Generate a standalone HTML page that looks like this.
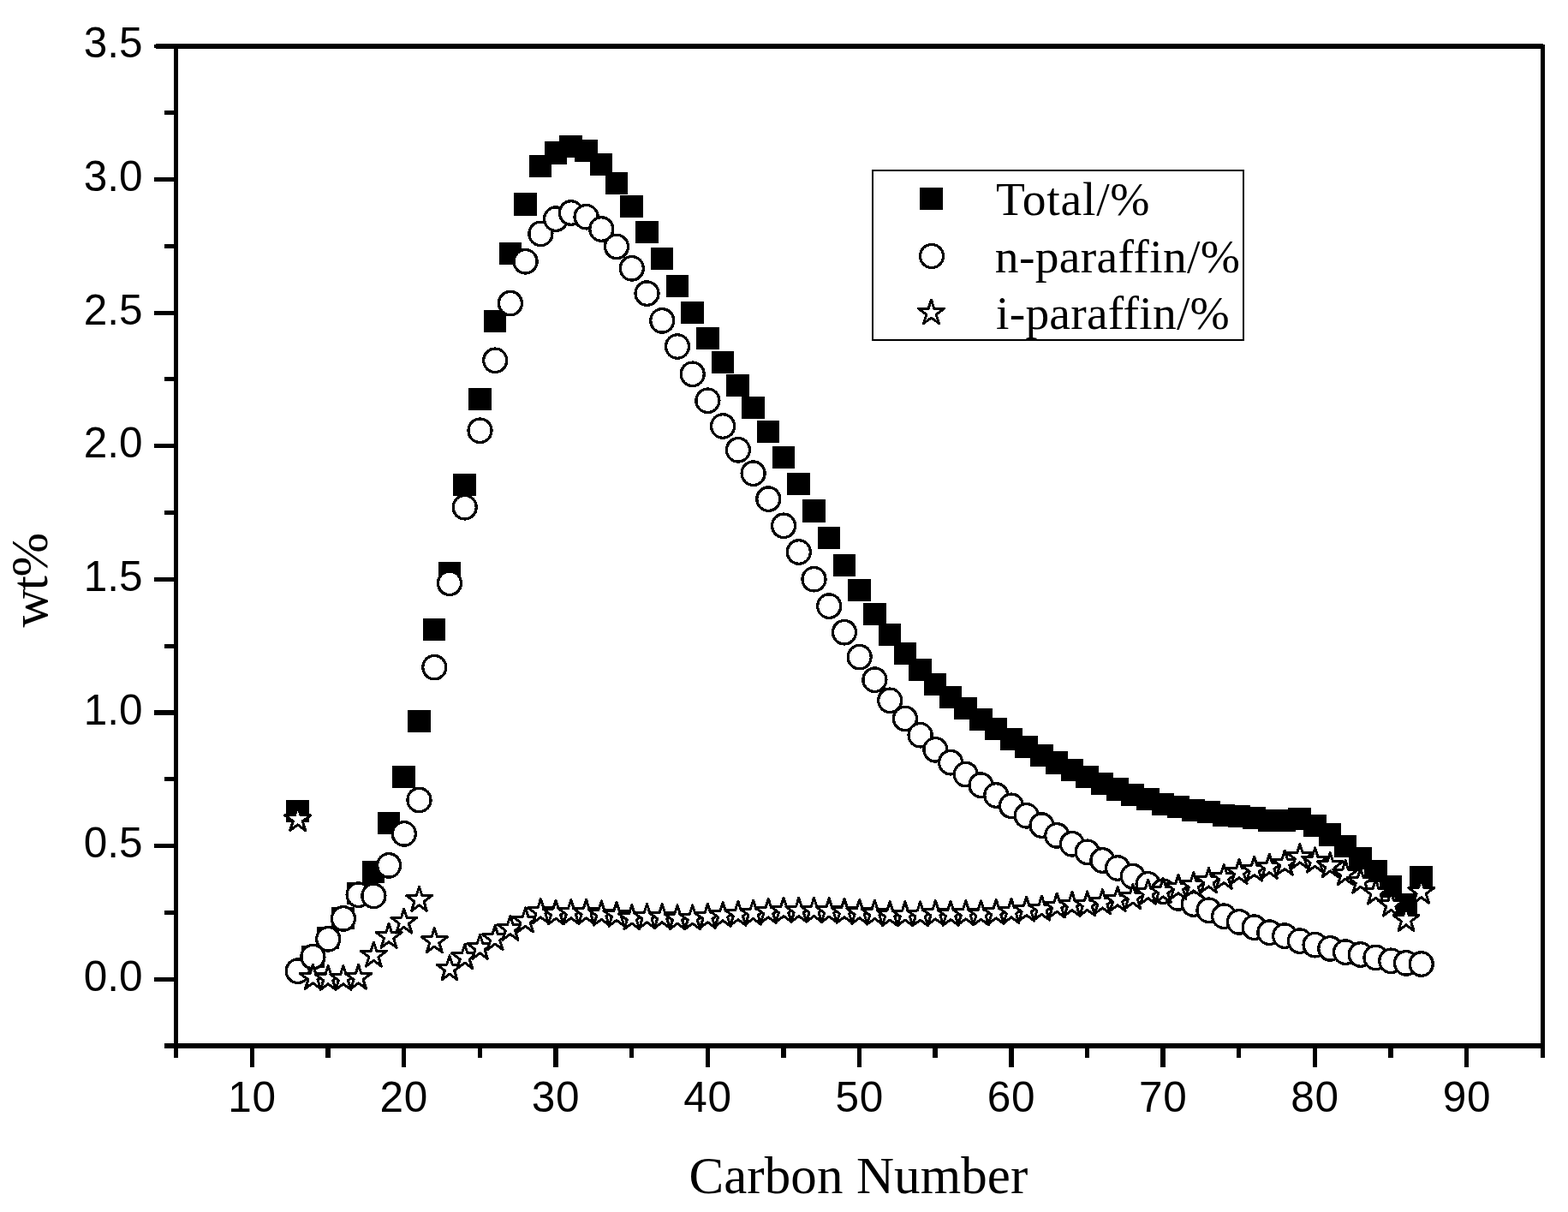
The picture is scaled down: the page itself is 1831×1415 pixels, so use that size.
<!DOCTYPE html>
<html lang="en"><head><meta charset="utf-8"><title>Carbon number distribution</title>
<style>
html,body{margin:0;padding:0;background:#fff;}
body{width:1831px;height:1415px;overflow:hidden;}
svg{display:block;}
.tk{font-family:"Liberation Sans",Arial,sans-serif;font-size:49.5px;fill:#000;}
.ti{font-family:"Liberation Serif","Times New Roman",serif;font-size:61px;fill:#000;}
.lg{font-family:"Liberation Serif","Times New Roman",serif;font-size:55.5px;fill:#000;}
.ax rect{fill:#000;}
.sq rect{fill:#000;}
.ci circle{fill:#fff;stroke:#000;stroke-width:3.1;}.ci ellipse{fill:#fff;stroke:#000;stroke-width:3.3;}
.st polygon{fill:#fff;stroke:#000;stroke-width:3;stroke-linejoin:round;}
</style></head><body>
<svg width="1831" height="1415" viewBox="0 0 1831 1415">
<rect x="0" y="0" width="1831" height="1415" fill="#fff"/>
<g class="ax" shape-rendering="crispEdges">
<rect x="203" y="51" width="5" height="1184"/>
<rect x="1799" y="52" width="5" height="1183"/>
<rect x="182" y="51" width="1620" height="6"/>
<rect x="180" y="52" width="3" height="4"/>
<rect x="192" y="1218" width="1612" height="6"/>
<rect x="180" y="1140.65" width="24" height="5.25"/>
<rect x="192" y="1062.82" width="12" height="5.25"/>
<rect x="180" y="984.99" width="24" height="5.25"/>
<rect x="192" y="907.16" width="12" height="5.25"/>
<rect x="180" y="829.33" width="24" height="5.25"/>
<rect x="192" y="751.50" width="12" height="5.25"/>
<rect x="180" y="673.67" width="24" height="5.25"/>
<rect x="192" y="595.84" width="12" height="5.25"/>
<rect x="180" y="518.01" width="24" height="5.25"/>
<rect x="192" y="440.18" width="12" height="5.25"/>
<rect x="180" y="363" width="24" height="5"/>
<rect x="192" y="284.52" width="12" height="5.25"/>
<rect x="180" y="206.69" width="24" height="5.25"/>
<rect x="192" y="128.86" width="12" height="5.25"/>
<rect x="291.61" y="1223" width="5.4" height="23"/>
<rect x="380.26" y="1223" width="5.4" height="12"/>
<rect x="468.91" y="1223" width="5.4" height="23"/>
<rect x="557.56" y="1223" width="5.4" height="12"/>
<rect x="646.21" y="1223" width="5.4" height="23"/>
<rect x="734.86" y="1223" width="5.4" height="12"/>
<rect x="823.51" y="1223" width="5.4" height="23"/>
<rect x="912.16" y="1223" width="5.4" height="12"/>
<rect x="1000.81" y="1223" width="5.4" height="23"/>
<rect x="1089.46" y="1223" width="5.4" height="12"/>
<rect x="1178.11" y="1223" width="5.4" height="23"/>
<rect x="1266.76" y="1223" width="5.4" height="12"/>
<rect x="1355.41" y="1223" width="5.4" height="23"/>
<rect x="1444.06" y="1223" width="5.4" height="12"/>
<rect x="1532.71" y="1223" width="5.4" height="23"/>
<rect x="1621.36" y="1223" width="5.4" height="12"/>
<rect x="1710.01" y="1223" width="5.4" height="23"/>
</g>
<g class="tk">
<text x="166.6" y="1156.9" text-anchor="end">0.0</text>
<text x="166.6" y="1001.2" text-anchor="end">0.5</text>
<text x="166.6" y="845.6" text-anchor="end">1.0</text>
<text x="166.6" y="689.9" text-anchor="end">1.5</text>
<text x="166.6" y="534.3" text-anchor="end">2.0</text>
<text x="166.6" y="378.6" text-anchor="end">2.5</text>
<text x="166.6" y="222.9" text-anchor="end">3.0</text>
<text x="166.6" y="67.3" text-anchor="end">3.5</text>
<text x="294.5" y="1298" text-anchor="middle" letter-spacing="0.7">10</text>
<text x="471.8" y="1298" text-anchor="middle" letter-spacing="0.7">20</text>
<text x="649.1" y="1298" text-anchor="middle" letter-spacing="0.7">30</text>
<text x="826.4" y="1298" text-anchor="middle" letter-spacing="0.7">40</text>
<text x="1003.7" y="1298" text-anchor="middle" letter-spacing="0.7">50</text>
<text x="1181.0" y="1298" text-anchor="middle" letter-spacing="0.7">60</text>
<text x="1358.3" y="1298" text-anchor="middle" letter-spacing="0.7">70</text>
<text x="1535.6" y="1298" text-anchor="middle" letter-spacing="0.7">80</text>
<text x="1712.9" y="1298" text-anchor="middle" letter-spacing="0.7">90</text>
</g>
<text class="ti" x="804.4" y="1392.7" letter-spacing="0.1">Carbon Number</text>
<text class="ti" transform="translate(55.3,732.6) rotate(-90)" style="font-size:62px" letter-spacing="-1.5">wt%</text>
<g class="sq" shape-rendering="crispEdges">
<rect x="334.2" y="933.8" width="26.55" height="26.35"/>
<rect x="352.0" y="1103.9" width="26.55" height="26.35"/>
<rect x="369.7" y="1081.5" width="26.55" height="26.35"/>
<rect x="387.4" y="1059.0" width="26.55" height="26.35"/>
<rect x="405.2" y="1029.9" width="26.55" height="26.35"/>
<rect x="422.9" y="1004.6" width="26.55" height="26.35"/>
<rect x="440.6" y="947.8" width="26.55" height="26.35"/>
<rect x="458.4" y="893.8" width="26.55" height="26.35"/>
<rect x="476.1" y="828.9" width="26.55" height="26.35"/>
<rect x="493.8" y="722.0" width="26.55" height="26.35"/>
<rect x="511.6" y="655.7" width="26.55" height="26.35"/>
<rect x="529.3" y="552.9" width="26.55" height="26.35"/>
<rect x="547.0" y="452.9" width="26.55" height="26.35"/>
<rect x="564.7" y="361.9" width="26.55" height="26.35"/>
<rect x="582.5" y="282.8" width="26.55" height="26.35"/>
<rect x="600.2" y="225.3" width="26.55" height="26.35"/>
<rect x="617.9" y="180.9" width="26.55" height="26.35"/>
<rect x="635.7" y="165.2" width="26.55" height="26.35"/>
<rect x="653.4" y="158.1" width="26.55" height="26.35"/>
<rect x="671.1" y="163.0" width="26.55" height="26.35"/>
<rect x="688.8" y="178.9" width="26.55" height="26.35"/>
<rect x="706.6" y="200.9" width="26.55" height="26.35"/>
<rect x="724.3" y="227.8" width="26.55" height="26.35"/>
<rect x="742.0" y="257.9" width="26.55" height="26.35"/>
<rect x="759.8" y="288.9" width="26.55" height="26.35"/>
<rect x="777.5" y="320.9" width="26.55" height="26.35"/>
<rect x="795.2" y="351.8" width="26.55" height="26.35"/>
<rect x="813.0" y="381.9" width="26.55" height="26.35"/>
<rect x="830.7" y="409.9" width="26.55" height="26.35"/>
<rect x="848.4" y="436.5" width="26.55" height="26.35"/>
<rect x="866.1" y="463.0" width="26.55" height="26.35"/>
<rect x="883.9" y="491.0" width="26.55" height="26.35"/>
<rect x="901.6" y="521.0" width="26.55" height="26.35"/>
<rect x="919.3" y="552.0" width="26.55" height="26.35"/>
<rect x="937.1" y="583.3" width="26.55" height="26.35"/>
<rect x="954.8" y="615.0" width="26.55" height="26.35"/>
<rect x="972.5" y="647.0" width="26.55" height="26.35"/>
<rect x="990.3" y="676.1" width="26.55" height="26.35"/>
<rect x="1008.0" y="704.0" width="26.55" height="26.35"/>
<rect x="1025.7" y="727.9" width="26.55" height="26.35"/>
<rect x="1043.5" y="750.0" width="26.55" height="26.35"/>
<rect x="1061.2" y="769.0" width="26.55" height="26.35"/>
<rect x="1078.9" y="786.0" width="26.55" height="26.35"/>
<rect x="1096.6" y="800.9" width="26.55" height="26.35"/>
<rect x="1114.4" y="813.8" width="26.55" height="26.35"/>
<rect x="1132.1" y="827.0" width="26.55" height="26.35"/>
<rect x="1149.8" y="838.1" width="26.55" height="26.35"/>
<rect x="1167.6" y="849.9" width="26.55" height="26.35"/>
<rect x="1185.3" y="858.8" width="26.55" height="26.35"/>
<rect x="1203.0" y="868.6" width="26.55" height="26.35"/>
<rect x="1220.8" y="877.2" width="26.55" height="26.35"/>
<rect x="1238.5" y="885.9" width="26.55" height="26.35"/>
<rect x="1256.2" y="893.8" width="26.55" height="26.35"/>
<rect x="1273.9" y="901.7" width="26.55" height="26.35"/>
<rect x="1291.7" y="908.3" width="26.55" height="26.35"/>
<rect x="1309.4" y="915.0" width="26.55" height="26.35"/>
<rect x="1327.1" y="920.1" width="26.55" height="26.35"/>
<rect x="1344.9" y="925.5" width="26.55" height="26.35"/>
<rect x="1362.6" y="929.0" width="26.55" height="26.35"/>
<rect x="1380.3" y="933.1" width="26.55" height="26.35"/>
<rect x="1398.0" y="935.1" width="26.55" height="26.35"/>
<rect x="1415.8" y="938.9" width="26.55" height="26.35"/>
<rect x="1433.5" y="940.1" width="26.55" height="26.35"/>
<rect x="1451.2" y="942.0" width="26.55" height="26.35"/>
<rect x="1469.0" y="945.0" width="26.55" height="26.35"/>
<rect x="1486.7" y="945.0" width="26.55" height="26.35"/>
<rect x="1504.4" y="943.0" width="26.55" height="26.35"/>
<rect x="1522.2" y="951.0" width="26.55" height="26.35"/>
<rect x="1539.9" y="961.2" width="26.55" height="26.35"/>
<rect x="1557.6" y="975.1" width="26.55" height="26.35"/>
<rect x="1575.4" y="989.0" width="26.55" height="26.35"/>
<rect x="1593.1" y="1003.9" width="26.55" height="26.35"/>
<rect x="1610.8" y="1022.1" width="26.55" height="26.35"/>
<rect x="1628.5" y="1043.3" width="26.55" height="26.35"/>
<rect x="1646.3" y="1011.1" width="26.55" height="26.35"/>
</g>
<g class="ci" shape-rendering="crispEdges">
<ellipse cx="347.7" cy="1133.70" rx="13.5" ry="13.75"/>
<ellipse cx="365.4" cy="1117.10" rx="13.5" ry="13.75"/>
<ellipse cx="383.2" cy="1096.30" rx="13.5" ry="13.75"/>
<ellipse cx="400.9" cy="1072.40" rx="13.5" ry="13.75"/>
<ellipse cx="418.6" cy="1044.70" rx="13.5" ry="13.75"/>
<ellipse cx="436.4" cy="1045.90" rx="13.5" ry="13.75"/>
<ellipse cx="454.1" cy="1010.40" rx="13.5" ry="13.75"/>
<ellipse cx="471.8" cy="973.40" rx="13.5" ry="13.75"/>
<ellipse cx="489.5" cy="934.00" rx="13.5" ry="13.75"/>
<ellipse cx="507.3" cy="779.10" rx="13.5" ry="13.75"/>
<ellipse cx="525.0" cy="680.80" rx="13.5" ry="13.75"/>
<ellipse cx="542.7" cy="592.20" rx="13.5" ry="13.75"/>
<ellipse cx="560.5" cy="502.80" rx="13.5" ry="13.75"/>
<ellipse cx="578.2" cy="420.80" rx="13.5" ry="13.75"/>
<ellipse cx="595.9" cy="354.10" rx="13.5" ry="13.75"/>
<ellipse cx="613.6" cy="305.30" rx="13.5" ry="13.75"/>
<ellipse cx="631.4" cy="272.90" rx="13.5" ry="13.75"/>
<ellipse cx="649.1" cy="255.60" rx="13.5" ry="13.75"/>
<ellipse cx="666.8" cy="248.50" rx="13.5" ry="13.75"/>
<ellipse cx="684.6" cy="253.20" rx="13.5" ry="13.75"/>
<ellipse cx="702.3" cy="267.50" rx="13.5" ry="13.75"/>
<ellipse cx="720.0" cy="287.90" rx="13.5" ry="13.75"/>
<ellipse cx="737.8" cy="313.30" rx="13.5" ry="13.75"/>
<ellipse cx="755.5" cy="342.60" rx="13.5" ry="13.75"/>
<ellipse cx="773.2" cy="374.40" rx="13.5" ry="13.75"/>
<ellipse cx="791.0" cy="404.50" rx="13.5" ry="13.75"/>
<ellipse cx="808.7" cy="436.80" rx="13.5" ry="13.75"/>
<ellipse cx="826.4" cy="467.80" rx="13.5" ry="13.75"/>
<ellipse cx="844.1" cy="497.50" rx="13.5" ry="13.75"/>
<ellipse cx="861.9" cy="525.30" rx="13.5" ry="13.75"/>
<ellipse cx="879.6" cy="552.70" rx="13.5" ry="13.75"/>
<ellipse cx="897.3" cy="582.60" rx="13.5" ry="13.75"/>
<ellipse cx="915.1" cy="613.80" rx="13.5" ry="13.75"/>
<ellipse cx="932.8" cy="644.50" rx="13.5" ry="13.75"/>
<ellipse cx="950.5" cy="676.20" rx="13.5" ry="13.75"/>
<ellipse cx="968.2" cy="707.60" rx="13.5" ry="13.75"/>
<ellipse cx="986.0" cy="738.20" rx="13.5" ry="13.75"/>
<ellipse cx="1003.7" cy="767.10" rx="13.5" ry="13.75"/>
<ellipse cx="1021.4" cy="793.70" rx="13.5" ry="13.75"/>
<ellipse cx="1039.2" cy="817.80" rx="13.5" ry="13.75"/>
<ellipse cx="1056.9" cy="838.90" rx="13.5" ry="13.75"/>
<ellipse cx="1074.6" cy="858.20" rx="13.5" ry="13.75"/>
<ellipse cx="1092.4" cy="875.30" rx="13.5" ry="13.75"/>
<ellipse cx="1110.1" cy="890.20" rx="13.5" ry="13.75"/>
<ellipse cx="1127.8" cy="904.10" rx="13.5" ry="13.75"/>
<ellipse cx="1145.5" cy="916.70" rx="13.5" ry="13.75"/>
<ellipse cx="1163.3" cy="928.50" rx="13.5" ry="13.75"/>
<ellipse cx="1181.0" cy="940.80" rx="13.5" ry="13.75"/>
<ellipse cx="1198.7" cy="952.30" rx="13.5" ry="13.75"/>
<ellipse cx="1216.5" cy="963.60" rx="13.5" ry="13.75"/>
<ellipse cx="1234.2" cy="975.40" rx="13.5" ry="13.75"/>
<ellipse cx="1251.9" cy="985.30" rx="13.5" ry="13.75"/>
<ellipse cx="1269.7" cy="994.80" rx="13.5" ry="13.75"/>
<ellipse cx="1287.4" cy="1004.50" rx="13.5" ry="13.75"/>
<ellipse cx="1305.1" cy="1013.50" rx="13.5" ry="13.75"/>
<ellipse cx="1322.8" cy="1023.10" rx="13.5" ry="13.75"/>
<ellipse cx="1340.6" cy="1032.40" rx="13.5" ry="13.75"/>
<ellipse cx="1358.3" cy="1040.70" rx="13.5" ry="13.75"/>
<ellipse cx="1376.0" cy="1048.40" rx="13.5" ry="13.75"/>
<ellipse cx="1393.8" cy="1055.50" rx="13.5" ry="13.75"/>
<ellipse cx="1411.5" cy="1062.80" rx="13.5" ry="13.75"/>
<ellipse cx="1429.2" cy="1069.70" rx="13.5" ry="13.75"/>
<ellipse cx="1447.0" cy="1076.40" rx="13.5" ry="13.75"/>
<ellipse cx="1464.7" cy="1082.70" rx="13.5" ry="13.75"/>
<ellipse cx="1482.4" cy="1088.70" rx="13.5" ry="13.75"/>
<ellipse cx="1500.2" cy="1092.60" rx="13.5" ry="13.75"/>
<ellipse cx="1517.9" cy="1098.60" rx="13.5" ry="13.75"/>
<ellipse cx="1535.6" cy="1103.15" rx="13.5" ry="13.75"/>
<ellipse cx="1553.3" cy="1107.40" rx="13.5" ry="13.75"/>
<ellipse cx="1571.1" cy="1111.60" rx="13.5" ry="13.75"/>
<ellipse cx="1588.8" cy="1114.50" rx="13.5" ry="13.75"/>
<ellipse cx="1606.5" cy="1117.90" rx="13.5" ry="13.75"/>
<ellipse cx="1624.3" cy="1121.80" rx="13.5" ry="13.75"/>
<ellipse cx="1642.0" cy="1124.40" rx="13.5" ry="13.75"/>
<ellipse cx="1659.7" cy="1125.50" rx="13.5" ry="13.75"/>
</g>
<g class="st" shape-rendering="crispEdges">
<polygon points="347.70,941.60 350.98,951.80 362.70,951.80 353.23,958.82 356.70,969.60 347.70,962.93 338.70,969.60 342.17,958.82 332.70,951.80 344.42,951.80"/>
<polygon points="365.40,1126.40 368.68,1136.60 380.40,1136.60 370.93,1143.62 374.40,1154.40 365.40,1147.72 356.40,1154.40 359.87,1143.62 350.40,1136.60 362.12,1136.60"/>
<polygon points="383.20,1127.40 386.48,1137.60 398.20,1137.60 388.73,1144.62 392.20,1155.40 383.20,1148.72 374.20,1155.40 377.67,1144.62 368.20,1137.60 379.92,1137.60"/>
<polygon points="400.90,1127.40 404.18,1137.60 415.90,1137.60 406.43,1144.62 409.90,1155.40 400.90,1148.72 391.90,1155.40 395.37,1144.62 385.90,1137.60 397.62,1137.60"/>
<polygon points="418.60,1126.40 421.88,1136.60 433.60,1136.60 424.13,1143.62 427.60,1154.40 418.60,1147.72 409.60,1154.40 413.07,1143.62 403.60,1136.60 415.32,1136.60"/>
<polygon points="436.40,1100.10 439.68,1110.30 451.40,1110.30 441.93,1117.32 445.40,1128.10 436.40,1121.42 427.40,1128.10 430.87,1117.32 421.40,1110.30 433.12,1110.30"/>
<polygon points="454.10,1078.30 457.38,1088.50 469.10,1088.50 459.63,1095.52 463.10,1106.30 454.10,1099.62 445.10,1106.30 448.57,1095.52 439.10,1088.50 450.82,1088.50"/>
<polygon points="471.80,1061.10 475.08,1071.30 486.80,1071.30 477.33,1078.32 480.80,1089.10 471.80,1082.42 462.80,1089.10 466.27,1078.32 456.80,1071.30 468.52,1071.30"/>
<polygon points="489.50,1035.40 492.78,1045.60 504.50,1045.60 495.03,1052.62 498.50,1063.40 489.50,1056.72 480.50,1063.40 483.97,1052.62 474.50,1045.60 486.22,1045.60"/>
<polygon points="507.30,1083.70 510.58,1093.90 522.30,1093.90 512.83,1100.92 516.30,1111.70 507.30,1105.02 498.30,1111.70 501.77,1100.92 492.30,1093.90 504.02,1093.90"/>
<polygon points="525.00,1115.90 528.28,1126.10 540.00,1126.10 530.53,1133.12 534.00,1143.90 525.00,1137.22 516.00,1143.90 519.47,1133.12 510.00,1126.10 521.72,1126.10"/>
<polygon points="542.70,1102.70 545.98,1112.90 557.70,1112.90 548.23,1119.92 551.70,1130.70 542.70,1124.02 533.70,1130.70 537.17,1119.92 527.70,1112.90 539.42,1112.90"/>
<polygon points="560.50,1091.40 563.78,1101.60 575.50,1101.60 566.03,1108.62 569.50,1119.40 560.50,1112.72 551.50,1119.40 554.97,1108.62 545.50,1101.60 557.22,1101.60"/>
<polygon points="578.20,1080.70 581.48,1090.90 593.20,1090.90 583.73,1097.92 587.20,1108.70 578.20,1102.02 569.20,1108.70 572.67,1097.92 563.20,1090.90 574.92,1090.90"/>
<polygon points="595.90,1069.20 599.18,1079.40 610.90,1079.40 601.43,1086.42 604.90,1097.20 595.90,1090.52 586.90,1097.20 590.37,1086.42 580.90,1079.40 592.62,1079.40"/>
<polygon points="613.60,1060.00 616.88,1070.20 628.60,1070.20 619.13,1077.22 622.60,1088.00 613.60,1081.32 604.60,1088.00 608.07,1077.22 598.60,1070.20 610.32,1070.20"/>
<polygon points="631.40,1049.50 634.68,1059.70 646.40,1059.70 636.93,1066.72 640.40,1077.50 631.40,1070.82 622.40,1077.50 625.87,1066.72 616.40,1059.70 628.12,1059.70"/>
<polygon points="649.10,1051.00 652.38,1061.20 664.10,1061.20 654.63,1068.22 658.10,1079.00 649.10,1072.32 640.10,1079.00 643.57,1068.22 634.10,1061.20 645.82,1061.20"/>
<polygon points="666.80,1050.40 670.08,1060.60 681.80,1060.60 672.33,1067.62 675.80,1078.40 666.80,1071.72 657.80,1078.40 661.27,1067.62 651.80,1060.60 663.52,1060.60"/>
<polygon points="684.60,1050.40 687.88,1060.60 699.60,1060.60 690.13,1067.62 693.60,1078.40 684.60,1071.72 675.60,1078.40 679.07,1067.62 669.60,1060.60 681.32,1060.60"/>
<polygon points="702.30,1052.00 705.58,1062.20 717.30,1062.20 707.83,1069.22 711.30,1080.00 702.30,1073.32 693.30,1080.00 696.77,1069.22 687.30,1062.20 699.02,1062.20"/>
<polygon points="720.00,1053.10 723.28,1063.30 735.00,1063.30 725.53,1070.32 729.00,1081.10 720.00,1074.42 711.00,1081.10 714.47,1070.32 705.00,1063.30 716.72,1063.30"/>
<polygon points="737.80,1056.70 741.08,1066.90 752.80,1066.90 743.33,1073.92 746.80,1084.70 737.80,1078.02 728.80,1084.70 732.27,1073.92 722.80,1066.90 734.52,1066.90"/>
<polygon points="755.50,1055.50 758.78,1065.70 770.50,1065.70 761.03,1072.72 764.50,1083.50 755.50,1076.82 746.50,1083.50 749.97,1072.72 740.50,1065.70 752.22,1065.70"/>
<polygon points="773.20,1055.50 776.48,1065.70 788.20,1065.70 778.73,1072.72 782.20,1083.50 773.20,1076.82 764.20,1083.50 767.67,1072.72 758.20,1065.70 769.92,1065.70"/>
<polygon points="791.00,1056.90 794.28,1067.10 806.00,1067.10 796.53,1074.12 800.00,1084.90 791.00,1078.22 782.00,1084.90 785.47,1074.12 776.00,1067.10 787.72,1067.10"/>
<polygon points="808.70,1056.90 811.98,1067.10 823.70,1067.10 814.23,1074.12 817.70,1084.90 808.70,1078.22 799.70,1084.90 803.17,1074.12 793.70,1067.10 805.42,1067.10"/>
<polygon points="826.40,1055.40 829.68,1065.60 841.40,1065.60 831.93,1072.62 835.40,1083.40 826.40,1076.72 817.40,1083.40 820.87,1072.62 811.40,1065.60 823.12,1065.60"/>
<polygon points="844.10,1053.50 847.38,1063.70 859.10,1063.70 849.63,1070.72 853.10,1081.50 844.10,1074.82 835.10,1081.50 838.57,1070.72 829.10,1063.70 840.82,1063.70"/>
<polygon points="861.90,1052.30 865.18,1062.50 876.90,1062.50 867.43,1069.52 870.90,1080.30 861.90,1073.62 852.90,1080.30 856.37,1069.52 846.90,1062.50 858.62,1062.50"/>
<polygon points="879.60,1051.20 882.88,1061.40 894.60,1061.40 885.13,1068.42 888.60,1079.20 879.60,1072.52 870.60,1079.20 874.07,1068.42 864.60,1061.40 876.32,1061.40"/>
<polygon points="897.30,1049.50 900.58,1059.70 912.30,1059.70 902.83,1066.72 906.30,1077.50 897.30,1070.82 888.30,1077.50 891.77,1066.72 882.30,1059.70 894.02,1059.70"/>
<polygon points="915.10,1048.20 918.38,1058.40 930.10,1058.40 920.63,1065.42 924.10,1076.20 915.10,1069.52 906.10,1076.20 909.57,1065.42 900.10,1058.40 911.82,1058.40"/>
<polygon points="932.80,1048.20 936.08,1058.40 947.80,1058.40 938.33,1065.42 941.80,1076.20 932.80,1069.52 923.80,1076.20 927.27,1065.42 917.80,1058.40 929.52,1058.40"/>
<polygon points="950.50,1048.20 953.78,1058.40 965.50,1058.40 956.03,1065.42 959.50,1076.20 950.50,1069.52 941.50,1076.20 944.97,1065.42 935.50,1058.40 947.22,1058.40"/>
<polygon points="968.20,1048.70 971.48,1058.90 983.20,1058.90 973.73,1065.92 977.20,1076.70 968.20,1070.02 959.20,1076.70 962.67,1065.92 953.20,1058.90 964.92,1058.90"/>
<polygon points="986.00,1049.40 989.28,1059.60 1001.00,1059.60 991.53,1066.62 995.00,1077.40 986.00,1070.72 977.00,1077.40 980.47,1066.62 971.00,1059.60 982.72,1059.60"/>
<polygon points="1003.70,1050.40 1006.98,1060.60 1018.70,1060.60 1009.23,1067.62 1012.70,1078.40 1003.70,1071.72 994.70,1078.40 998.17,1067.62 988.70,1060.60 1000.42,1060.60"/>
<polygon points="1021.40,1051.20 1024.68,1061.40 1036.40,1061.40 1026.93,1068.42 1030.40,1079.20 1021.40,1072.52 1012.40,1079.20 1015.87,1068.42 1006.40,1061.40 1018.12,1061.40"/>
<polygon points="1039.20,1052.80 1042.48,1063.00 1054.20,1063.00 1044.73,1070.02 1048.20,1080.80 1039.20,1074.12 1030.20,1080.80 1033.67,1070.02 1024.20,1063.00 1035.92,1063.00"/>
<polygon points="1056.90,1052.80 1060.18,1063.00 1071.90,1063.00 1062.43,1070.02 1065.90,1080.80 1056.90,1074.12 1047.90,1080.80 1051.37,1070.02 1041.90,1063.00 1053.62,1063.00"/>
<polygon points="1074.60,1052.80 1077.88,1063.00 1089.60,1063.00 1080.13,1070.02 1083.60,1080.80 1074.60,1074.12 1065.60,1080.80 1069.07,1070.02 1059.60,1063.00 1071.32,1063.00"/>
<polygon points="1092.40,1051.50 1095.68,1061.70 1107.40,1061.70 1097.93,1068.72 1101.40,1079.50 1092.40,1072.82 1083.40,1079.50 1086.87,1068.72 1077.40,1061.70 1089.12,1061.70"/>
<polygon points="1110.10,1052.20 1113.38,1062.40 1125.10,1062.40 1115.63,1069.42 1119.10,1080.20 1110.10,1073.52 1101.10,1080.20 1104.57,1069.42 1095.10,1062.40 1106.82,1062.40"/>
<polygon points="1127.80,1051.50 1131.08,1061.70 1142.80,1061.70 1133.33,1068.72 1136.80,1079.50 1127.80,1072.82 1118.80,1079.50 1122.27,1068.72 1112.80,1061.70 1124.52,1061.70"/>
<polygon points="1145.50,1051.90 1148.78,1062.10 1160.50,1062.10 1151.03,1069.12 1154.50,1079.90 1145.50,1073.22 1136.50,1079.90 1139.97,1069.12 1130.50,1062.10 1142.22,1062.10"/>
<polygon points="1163.30,1050.50 1166.58,1060.70 1178.30,1060.70 1168.83,1067.72 1172.30,1078.50 1163.30,1071.82 1154.30,1078.50 1157.77,1067.72 1148.30,1060.70 1160.02,1060.70"/>
<polygon points="1181.00,1049.50 1184.28,1059.70 1196.00,1059.70 1186.53,1066.72 1190.00,1077.50 1181.00,1070.82 1172.00,1077.50 1175.47,1066.72 1166.00,1059.70 1177.72,1059.70"/>
<polygon points="1198.70,1047.20 1201.98,1057.40 1213.70,1057.40 1204.23,1064.42 1207.70,1075.20 1198.70,1068.52 1189.70,1075.20 1193.17,1064.42 1183.70,1057.40 1195.42,1057.40"/>
<polygon points="1216.50,1046.10 1219.78,1056.30 1231.50,1056.30 1222.03,1063.32 1225.50,1074.10 1216.50,1067.42 1207.50,1074.10 1210.97,1063.32 1201.50,1056.30 1213.22,1056.30"/>
<polygon points="1234.20,1043.00 1237.48,1053.20 1249.20,1053.20 1239.73,1060.22 1243.20,1071.00 1234.20,1064.32 1225.20,1071.00 1228.67,1060.22 1219.20,1053.20 1230.92,1053.20"/>
<polygon points="1251.90,1041.20 1255.18,1051.40 1266.90,1051.40 1257.43,1058.42 1260.90,1069.20 1251.90,1062.52 1242.90,1069.20 1246.37,1058.42 1236.90,1051.40 1248.62,1051.40"/>
<polygon points="1269.70,1041.00 1272.98,1051.20 1284.70,1051.20 1275.23,1058.22 1278.70,1069.00 1269.70,1062.32 1260.70,1069.00 1264.17,1058.22 1254.70,1051.20 1266.42,1051.20"/>
<polygon points="1287.40,1038.70 1290.68,1048.90 1302.40,1048.90 1292.93,1055.92 1296.40,1066.70 1287.40,1060.02 1278.40,1066.70 1281.87,1055.92 1272.40,1048.90 1284.12,1048.90"/>
<polygon points="1305.10,1035.50 1308.38,1045.70 1320.10,1045.70 1310.63,1052.72 1314.10,1063.50 1305.10,1056.82 1296.10,1063.50 1299.57,1052.72 1290.10,1045.70 1301.82,1045.70"/>
<polygon points="1322.80,1032.70 1326.08,1042.90 1337.80,1042.90 1328.33,1049.92 1331.80,1060.70 1322.80,1054.02 1313.80,1060.70 1317.27,1049.92 1307.80,1042.90 1319.52,1042.90"/>
<polygon points="1340.60,1027.30 1343.88,1037.50 1355.60,1037.50 1346.13,1044.52 1349.60,1055.30 1340.60,1048.62 1331.60,1055.30 1335.07,1044.52 1325.60,1037.50 1337.32,1037.50"/>
<polygon points="1358.30,1025.60 1361.58,1035.80 1373.30,1035.80 1363.83,1042.82 1367.30,1053.60 1358.30,1046.92 1349.30,1053.60 1352.77,1042.82 1343.30,1035.80 1355.02,1035.80"/>
<polygon points="1376.00,1021.30 1379.28,1031.50 1391.00,1031.50 1381.53,1038.52 1385.00,1049.30 1376.00,1042.62 1367.00,1049.30 1370.47,1038.52 1361.00,1031.50 1372.72,1031.50"/>
<polygon points="1393.80,1018.50 1397.08,1028.70 1408.80,1028.70 1399.33,1035.72 1402.80,1046.50 1393.80,1039.82 1384.80,1046.50 1388.27,1035.72 1378.80,1028.70 1390.52,1028.70"/>
<polygon points="1411.50,1013.60 1414.78,1023.80 1426.50,1023.80 1417.03,1030.82 1420.50,1041.60 1411.50,1034.92 1402.50,1041.60 1405.97,1030.82 1396.50,1023.80 1408.22,1023.80"/>
<polygon points="1429.20,1009.30 1432.48,1019.50 1444.20,1019.50 1434.73,1026.52 1438.20,1037.30 1429.20,1030.62 1420.20,1037.30 1423.67,1026.52 1414.20,1019.50 1425.92,1019.50"/>
<polygon points="1447.00,1003.30 1450.28,1013.50 1462.00,1013.50 1452.53,1020.52 1456.00,1031.30 1447.00,1024.62 1438.00,1031.30 1441.47,1020.52 1432.00,1013.50 1443.72,1013.50"/>
<polygon points="1464.70,1000.20 1467.98,1010.40 1479.70,1010.40 1470.23,1017.42 1473.70,1028.20 1464.70,1021.52 1455.70,1028.20 1459.17,1017.42 1449.70,1010.40 1461.42,1010.40"/>
<polygon points="1482.40,997.30 1485.68,1007.50 1497.40,1007.50 1487.93,1014.52 1491.40,1025.30 1482.40,1018.62 1473.40,1025.30 1476.87,1014.52 1467.40,1007.50 1479.12,1007.50"/>
<polygon points="1500.20,993.10 1503.48,1003.30 1515.20,1003.30 1505.73,1010.32 1509.20,1021.10 1500.20,1014.43 1491.20,1021.10 1494.67,1010.32 1485.20,1003.30 1496.92,1003.30"/>
<polygon points="1517.90,985.60 1521.18,995.80 1532.90,995.80 1523.43,1002.82 1526.90,1013.60 1517.90,1006.93 1508.90,1013.60 1512.37,1002.82 1502.90,995.80 1514.62,995.80"/>
<polygon points="1535.60,990.00 1538.88,1000.20 1550.60,1000.20 1541.13,1007.22 1544.60,1018.00 1535.60,1011.33 1526.60,1018.00 1530.07,1007.22 1520.60,1000.20 1532.32,1000.20"/>
<polygon points="1553.30,995.60 1556.58,1005.80 1568.30,1005.80 1558.83,1012.82 1562.30,1023.60 1553.30,1016.93 1544.30,1023.60 1547.77,1012.82 1538.30,1005.80 1550.02,1005.80"/>
<polygon points="1571.10,1004.80 1574.38,1015.00 1586.10,1015.00 1576.63,1022.02 1580.10,1032.80 1571.10,1026.12 1562.10,1032.80 1565.57,1022.02 1556.10,1015.00 1567.82,1015.00"/>
<polygon points="1588.80,1014.00 1592.08,1024.20 1603.80,1024.20 1594.33,1031.22 1597.80,1042.00 1588.80,1035.32 1579.80,1042.00 1583.27,1031.22 1573.80,1024.20 1585.52,1024.20"/>
<polygon points="1606.50,1027.00 1609.78,1037.20 1621.50,1037.20 1612.03,1044.22 1615.50,1055.00 1606.50,1048.32 1597.50,1055.00 1600.97,1044.22 1591.50,1037.20 1603.22,1037.20"/>
<polygon points="1624.30,1041.10 1627.58,1051.30 1639.30,1051.30 1629.83,1058.32 1633.30,1069.10 1624.30,1062.42 1615.30,1069.10 1618.77,1058.32 1609.30,1051.30 1621.02,1051.30"/>
<polygon points="1642.00,1058.50 1645.28,1068.70 1657.00,1068.70 1647.53,1075.72 1651.00,1086.50 1642.00,1079.82 1633.00,1086.50 1636.47,1075.72 1627.00,1068.70 1638.72,1068.70"/>
<polygon points="1659.70,1026.30 1662.98,1036.50 1674.70,1036.50 1665.23,1043.52 1668.70,1054.30 1659.70,1047.62 1650.70,1054.30 1654.17,1043.52 1644.70,1036.50 1656.42,1036.50"/>
</g>
<rect x="1019" y="199" width="433" height="198" fill="#fff" stroke="#000" stroke-width="2" shape-rendering="crispEdges"/>
<g class="sq" shape-rendering="crispEdges"><rect x="1074" y="219" width="27" height="26"/></g>
<g class="ci" shape-rendering="crispEdges"><circle cx="1088" cy="299" r="13.55"/></g>
<g class="st" shape-rendering="crispEdges"><polygon points="1087.50,350.20 1090.86,360.40 1102.50,360.40 1093.08,367.11 1096.50,377.50 1087.50,371.09 1078.50,377.50 1081.92,367.11 1072.50,360.40 1084.14,360.40"/></g>
<g class="lg">
<text x="1162.9" y="251.2" letter-spacing="0.8">Total/%</text>
<text x="1161.8" y="317.8" letter-spacing="0.33">n-paraffin/%</text>
<text x="1163" y="383.7" letter-spacing="0.24">i-paraffin/%</text>
</g>
</svg>
</body></html>
